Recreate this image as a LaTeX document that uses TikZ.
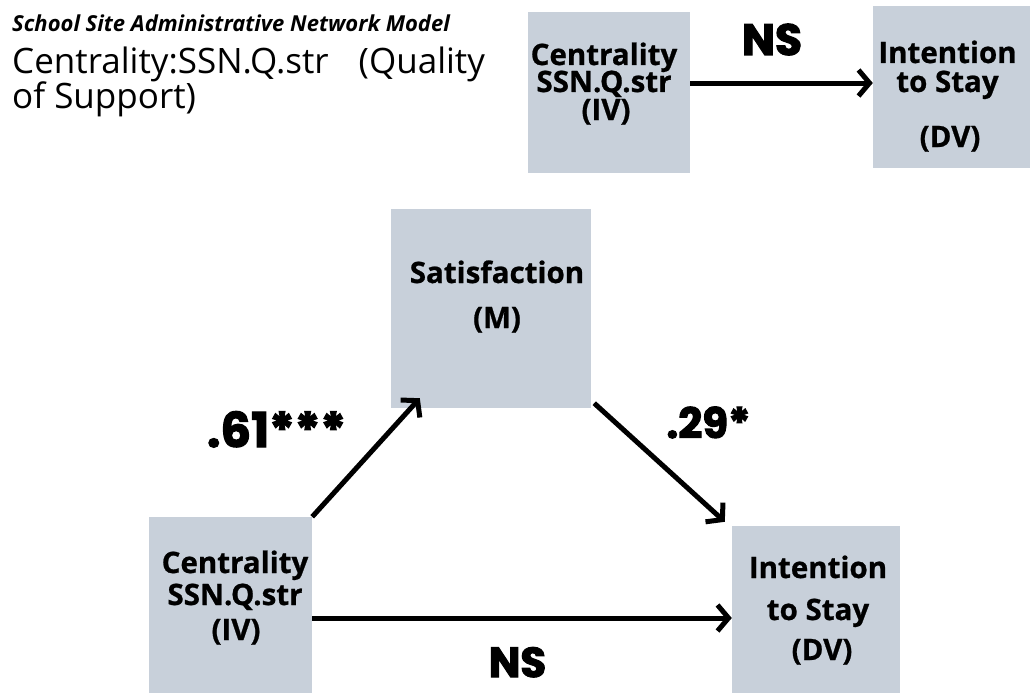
\documentclass[tikz,border=0pt]{standalone}
\usepackage{fontspec}
\setmainfont{Open Sans}
\newfontfamily\xbfam[FakeBold=2.5]{Poppins}
\newfontfamily\bxfam[FakeBold=0.8]{Open Sans}
\usetikzlibrary{arrows.meta,calc}
\definecolor{boxfill}{HTML}{C8D0DA}
\newcommand\boxfont{\bxfam\fontsize{29.5}{29.5}\selectfont\bfseries}
\newcommand\coeffont{\xbfam\bfseries}
\begin{document}
\begin{tikzpicture}[x=1pt,y=-1pt,
  box/.style={fill=boxfill, draw=none, inner sep=0pt},
  ln/.style={font=\boxfont, anchor=base, inner sep=0pt},
  arr/.style={line width=5pt, -{Straight Barb[length=11pt,width=26pt]}},
  coef/.style={font=\coeffont, anchor=base, inner sep=0pt},
  ttl/.style={anchor=base west, inner sep=0pt}]
\useasboundingbox (0,0) rectangle (1030,693);
% boxes
\node[box, minimum width=162pt, minimum height=161pt] (ivA) at (609,92.5) {};
\node[box, minimum width=157pt, minimum height=162pt] (dvA) at (951.5,87) {};
\node[box, minimum width=200pt, minimum height=199pt] (sat) at (491,308.5) {};
\node[box, minimum width=163pt, minimum height=176pt] (ivB) at (230.5,605) {};
\node[box, minimum width=168pt, minimum height=167pt] (dvB) at (816,609.5) {};
% box texts
\node[ln] (ivA1) at (604,65) {Centrality};
\node[ln] (ivA2) at (604,92) {SSN.Q.str};
\node[ln] (ivA3) at (606,120) {(IV)};
\node[ln] (dvA1) at (947.5,63) {Intention};
\node[ln] (dvA2) at (947.5,92) {to Stay};
\node[ln] (dvA3) at (950,147) {(DV)};
\node[ln] (sat1) at (497,283) {Satisfaction};
\node[ln] (sat2) at (497,328) {(M)};
\node[ln] (ivB1) at (235,573) {Centrality};
\node[ln] (ivB2) at (235,605) {SSN.Q.str};
\node[ln] (ivB3) at (236,640) {(IV)};
\node[ln] (dvB1) at (818,578) {Intention};
\node[ln] (dvB2) at (818,620) {to Stay};
\node[ln] (dvB3) at (822,660) {(DV)};
% title
\node[ttl, font=\fontsize{22}{22}\selectfont\bfseries\itshape] (title) at (12,32) {School Site Administrative Network Model};
\node[ttl, font=\fontsize{35}{35}\selectfont] (sub1) at (12,74) {Centrality:SSN.Q.str\hspace{30pt}(Quality};
\node[ttl, font=\fontsize{35}{35}\selectfont] (sub2) at (12,108) {of Support)};
% arrows
\draw[arr] ([yshift=9.5pt]ivA.east) -- ([yshift=4pt]dvA.west);
\draw[arr] ([yshift=-13pt]ivB.east) -- ([yshift=-8.5pt]dvB.west);
\draw[arr] (ivB.north east) -- ($(sat.south west)+(29,-10)$);
\draw[arr] ($(sat.south east)+(3,-5)$) -- ($(dvB.north west)+(-7,-4)$);
% coefficients
\node[coef, font=\coeffont\fontsize{44}{44}\selectfont] (nsA) at (772,55) {NS};
\node[coef, font=\coeffont\fontsize{48}{48}\selectfont] (c61) at (276.5,447) {.61***};
\node[coef, font=\coeffont\fontsize{42}{42}\selectfont] (c29) at (708.5,438) {.29*};
\node[coef, font=\coeffont\fontsize{42}{42}\selectfont] (nsB) at (517.5,677) {NS};
\end{tikzpicture}
\end{document}
